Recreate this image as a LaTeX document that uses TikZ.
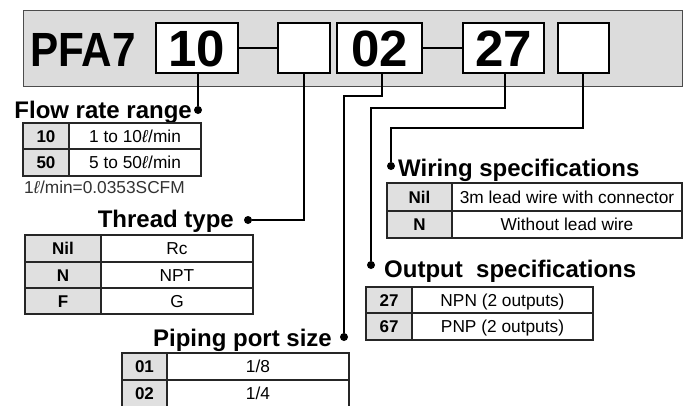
\documentclass[tikz,border=0pt]{standalone}
\usepackage{fontspec}
\setmainfont{Liberation Sans}
\definecolor{panelgray}{HTML}{DCDCDC}
\definecolor{keygray}{HTML}{E0E0E0}
\newcommand\litre{\textit{ℓ}}
\newcommand\tabrow[8]{%
  \fill[keygray] (#1,#4) rectangle (#2,#5);
  \draw[cellline] (#1,#4) rectangle (#3,#5) (#2,#4) -- (#2,#5);
  \node[keytext] (#8k) at ({(#1+#2)/2},{(#4+#5)/2}) {#6};
  \node[valtext] (#8v) at ({(#2+#3)/2},{(#4+#5)/2}) {#7};
}
\begin{document}
\begin{tikzpicture}[x=1pt,y=-1pt,
  codebox/.style={draw=black, line width=2.4pt, fill=white, inner sep=0pt,
    minimum height=50pt, text height=36.5pt, text depth=0pt,
    font=\fontsize{51}{55}\selectfont\bfseries},
  wire/.style={line width=1.8pt, draw=black},
  hyphenline/.style={line width=2.2pt, draw=black},
  dotnode/.style={circle, fill=black, inner sep=0pt, minimum size=8pt},
  title/.style={font=\fontsize{24}{28}\selectfont\bfseries, inner sep=0pt},
  keytext/.style={font=\fontsize{17}{20}\selectfont\bfseries, inner sep=0pt,
    text height=12.2pt, text depth=0pt},
  valtext/.style={font=\fontsize{17.3}{20}\selectfont, inner sep=0pt,
    text height=12.2pt, text depth=0pt},
  cellline/.style={draw=black!85, line width=1.1pt},
]
\clip (0,0) rectangle (683,405);
\fill[white] (0,0) rectangle (683,405);

% panel
\draw[fill=panelgray, draw=black!70, line width=1pt] (23,10) rectangle (682,86);
\node[anchor=base west, inner sep=0pt, font=\fontsize{48}{52}\selectfont\bfseries]
  (pfa) at (30,66) {\scalebox{0.88}[1]{PFA7}};

% dots
\node[dotnode] (d1) at (198,110) {};
\node[dotnode] (d2) at (248,220) {};
\node[dotnode] (d3) at (344,337) {};
\node[dotnode] (d4) at (371,265) {};
\node[dotnode] (d5) at (391,166) {};
\coordinate (k3) at (382,96);
\coordinate (k4) at (505,108);
\coordinate (k5) at (583,128);

% code boxes
\node[codebox, minimum width=82pt] (b1) at (197,48) {10};
\node[codebox, minimum width=52pt] (b2) at (304,48) {};
\node[codebox, minimum width=85pt] (b3) at (379.5,48) {02};
\node[codebox, minimum width=81pt] (b4) at (503.5,48) {27};
\node[codebox, minimum width=51pt] (b5) at (583.5,48) {};
\draw[hyphenline] (b1.east) -- (b2.west);
\draw[hyphenline] (b3.east) -- (b4.west);

% connectors
\draw[wire] (b1.south -| d1) -- (d1);
\draw[wire] (b2.south) |- (d2);
\draw[wire] (b3.south -| k3) -- (k3) -| (d3);
\draw[wire] (b4.south -| k4) -- (k4) -| (d4);
\draw[wire] (b5.south -| k5) -- (k5) -| (d5);

% titles
\node[title, anchor=base east] (t1) at (192,118) {Flow rate range};
\node[title, anchor=base east] (t2) at (234,227) {Thread type};
\node[title, anchor=base east] (t3) at (332,346) {Piping port size};
\node[title, anchor=base west] (t4) at (384,277) {Output\ \ specifications};
\node[title, anchor=base west] (t5) at (398,176) {Wiring specifications};

% flow rate table
\tabrow{23}{69}{201}{123}{149}{10}{1 to 10\litre/min}{fa}
\tabrow{23}{69}{201}{149}{176}{50}{5 to 50\litre/min}{fb}
\node[anchor=base west, inner sep=0pt, font=\fontsize{17.3}{20}\selectfont, text=black!80]
  (note) at (24,193) {1\litre/min=0.0353SCFM};

% thread table
\tabrow{25}{101}{253}{235}{262}{Nil}{Rc}{ta}
\tabrow{25}{101}{253}{262}{288}{N}{NPT}{tb}
\tabrow{25}{101}{253}{288}{314}{F}{G}{tc}

% piping table
\tabrow{122}{167}{349}{353}{380}{01}{1/8}{pa}
\tabrow{122}{167}{349}{380}{407}{02}{1/4}{pb}

% wiring table
\tabrow{387}{452}{682}{183}{211}{Nil}{3m lead wire with connector}{wa}
\tabrow{387}{452}{682}{211}{238}{N}{Without lead wire}{wb}

% output table
\tabrow{366}{412}{593}{287}{313}{27}{NPN (2 outputs)}{oa}
\tabrow{366}{412}{593}{313}{340}{67}{PNP (2 outputs)}{ob}
\end{tikzpicture}
\end{document}
